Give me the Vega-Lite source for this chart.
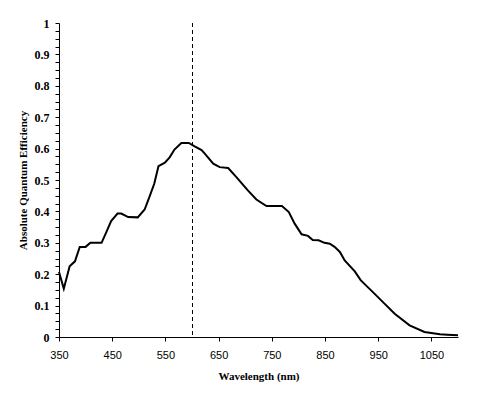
{
  "$schema": "https://vega.github.io/schema/vega-lite/v6.json",
  "width": 399,
  "height": 314,
  "autosize": "none",
  "padding": {"left": 59, "top": 23, "right": 21, "bottom": 58},
  "background": "white",
  "config": {"view": {"stroke": null}},
  "layer": [
    {
      "data": {"values": [
        {"wavelength": 350, "aqe": 0.207},
        {"wavelength": 359, "aqe": 0.154},
        {"wavelength": 370, "aqe": 0.225},
        {"wavelength": 380, "aqe": 0.241},
        {"wavelength": 389, "aqe": 0.287},
        {"wavelength": 400, "aqe": 0.287},
        {"wavelength": 409, "aqe": 0.300},
        {"wavelength": 430, "aqe": 0.300},
        {"wavelength": 439, "aqe": 0.334},
        {"wavelength": 448, "aqe": 0.369},
        {"wavelength": 460, "aqe": 0.393},
        {"wavelength": 467, "aqe": 0.393},
        {"wavelength": 480, "aqe": 0.382},
        {"wavelength": 498, "aqe": 0.381},
        {"wavelength": 511, "aqe": 0.406},
        {"wavelength": 520, "aqe": 0.446},
        {"wavelength": 529, "aqe": 0.488},
        {"wavelength": 537, "aqe": 0.544},
        {"wavelength": 549, "aqe": 0.555},
        {"wavelength": 558, "aqe": 0.572},
        {"wavelength": 567, "aqe": 0.597},
        {"wavelength": 580, "aqe": 0.618},
        {"wavelength": 594, "aqe": 0.618},
        {"wavelength": 605, "aqe": 0.607},
        {"wavelength": 618, "aqe": 0.595},
        {"wavelength": 624, "aqe": 0.584},
        {"wavelength": 640, "aqe": 0.552},
        {"wavelength": 652, "aqe": 0.541},
        {"wavelength": 668, "aqe": 0.538},
        {"wavelength": 683, "aqe": 0.510},
        {"wavelength": 705, "aqe": 0.467},
        {"wavelength": 721, "aqe": 0.438},
        {"wavelength": 740, "aqe": 0.417},
        {"wavelength": 769, "aqe": 0.417},
        {"wavelength": 782, "aqe": 0.398},
        {"wavelength": 793, "aqe": 0.361},
        {"wavelength": 806, "aqe": 0.327},
        {"wavelength": 818, "aqe": 0.322},
        {"wavelength": 827, "aqe": 0.309},
        {"wavelength": 838, "aqe": 0.308},
        {"wavelength": 849, "aqe": 0.300},
        {"wavelength": 859, "aqe": 0.297},
        {"wavelength": 868, "aqe": 0.287},
        {"wavelength": 878, "aqe": 0.271},
        {"wavelength": 887, "aqe": 0.244},
        {"wavelength": 906, "aqe": 0.209},
        {"wavelength": 917, "aqe": 0.181},
        {"wavelength": 940, "aqe": 0.143},
        {"wavelength": 959, "aqe": 0.111},
        {"wavelength": 981, "aqe": 0.074},
        {"wavelength": 1009, "aqe": 0.037},
        {"wavelength": 1037, "aqe": 0.016},
        {"wavelength": 1066, "aqe": 0.0086},
        {"wavelength": 1080, "aqe": 0.007},
        {"wavelength": 1100, "aqe": 0.0054}
      ]},
      "mark": {"type": "line", "color": "black", "strokeWidth": 2, "interpolate": "linear"},
      "encoding": {
        "x": {
          "field": "wavelength", "type": "quantitative",
          "scale": {"domain": [350, 1100], "nice": false, "zero": false},
          "axis": {
            "title": "Wavelength (nm)",
            "values": [350, 400, 450, 500, 550, 600, 650, 700, 750, 800, 850, 900, 950, 1000, 1050, 1100],
            "labelExpr": "datum.value % 100 == 50 ? datum.label : ''",
            "format": "d",
            "grid": false,
            "domainColor": "black", "tickColor": "black", "tickSize": 4,
            "labelFont": "Liberation Sans", "labelFontSize": 11, "labelColor": "black",
            "labelPadding": 8, "labelOverlap": false, "labelBound": false, "labelFlush": false,
            "titleFont": "serif", "titleFontSize": 11, "titleFontWeight": "bold", "titleColor": "black",
            "titlePadding": 10
          }
        },
        "y": {
          "field": "aqe", "type": "quantitative",
          "scale": {"domain": [0, 1], "nice": false},
          "axis": {
            "title": "Absolute Quantum Efficiency",
            "values": [0, 0.025, 0.05, 0.075, 0.1, 0.125, 0.15, 0.175, 0.2, 0.225, 0.25, 0.275, 0.3, 0.325, 0.35, 0.375, 0.4, 0.425, 0.45, 0.475, 0.5, 0.525, 0.55, 0.575, 0.6, 0.625, 0.65, 0.675, 0.7, 0.725, 0.75, 0.775, 0.8, 0.825, 0.85, 0.875, 0.9, 0.925, 0.95, 0.975, 1],
            "format": ".2~f",
            "labelExpr": "abs(datum.value * 10 - round(datum.value * 10)) < 0.001 ? datum.label : ''",
            "grid": false,
            "domainColor": "black", "tickColor": "black", "tickSize": 4,
            "labelFont": "serif", "labelFontSize": 12, "labelFontWeight": "bold", "labelColor": "black",
            "labelPadding": 6, "labelOverlap": false, "labelBound": false, "labelFlush": false,
            "titleFont": "serif", "titleFontSize": 11, "titleFontWeight": "bold", "titleColor": "black",
            "titlePadding": 6
          }
        }
      }
    },
    {
      "data": {"values": [{"wavelength": 600}]},
      "mark": {"type": "rule", "color": "black", "strokeWidth": 1, "strokeDash": [4, 3], "xOffset": 0.5},
      "encoding": {
        "x": {"field": "wavelength", "type": "quantitative"}
      }
    }
  ]
}
